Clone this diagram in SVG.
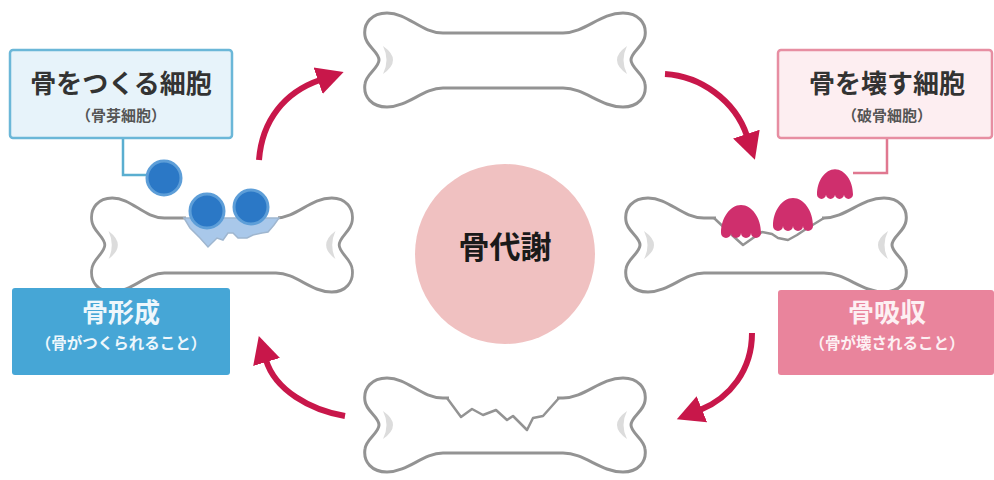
<svg xmlns="http://www.w3.org/2000/svg" xmlns:xlink="http://www.w3.org/1999/xlink" width="994" height="480" viewBox="0 0 994 480">
  <style>
    .bone { fill: #ffffff; stroke: #939393; stroke-width: 3; stroke-linejoin: round; }
    .mark { fill: #dcdcdc; }
    .crack { fill: none; stroke: #939393; stroke-width: 2.5; stroke-linejoin: round; }
    .patch { fill: #ffffff; }
    .arrow { fill: none; stroke: #c8174a; stroke-width: 6; marker-end: url(#head); }
    .t-main { font-family: "Noto Sans CJK JP", "Noto Sans", sans-serif; font-weight: 700; text-anchor: middle; }
    .blast { fill: #2b78c6; stroke: #5d9ed8; stroke-width: 3; }
    .clast { fill: #cf2f6d; }
  </style>
  <defs>
    <!-- generic long bone, centred on the origin -->
    <g id="bone">
      <path class="bone" d="M -62,-27 L 58,-27 C 80,-27 95,-47 118,-47 C 133,-47 142,-37 140,-24 C 139,-14 126,-8 126,0 C 126,8 139,14 140,24 C 142,37 133,47 118,47 C 95,47 80,28 58,28 L -62,28 C -82,28 -97,47 -118,47 C -133,47 -142,37 -140,24 C -139,14 -126,8 -126,0 C -126,-8 -139,-14 -140,-24 C -142,-37 -133,-47 -118,-47 C -97,-47 -84,-27 -62,-27 Z"/>
      <path class="mark" d="M -122,-14 Q -102,0 -122,14 Q -115,0 -122,-14 Z"/>
      <path class="mark" d="M 122,-14 Q 102,0 122,14 Q 115,0 122,-14 Z"/>
    </g>
    <!-- bone-resorbing cell: dome with a scalloped base -->
    <path id="clast" class="clast" d="M -20,6 C -20,-9 -11,-22 0,-22 C 11,-22 20,-9 20,6 A 5,5 0 0 1 10,6 A 5,5 0 0 1 0,6 A 5,5 0 0 1 -10,6 A 5,5 0 0 1 -20,6 Z"/>
    <marker id="head" viewBox="0 0 28 30" refX="2" refY="15" markerWidth="28" markerHeight="30" markerUnits="userSpaceOnUse" orient="auto">
      <path d="M 0,1 L 27,15 L 0,29 Z" fill="#c8174a"/>
    </marker>
  </defs>

  <rect width="994" height="480" fill="#ffffff"/>

  <!-- cycle arrows and label leaders -->
  <g id="connectors">
    <path class="arrow" d="M 259,160 C 262,120 285,92 320,80"/>
    <path class="arrow" d="M 665,74 C 700,76 735,100 747,136"/>
    <path class="arrow" d="M 752,333 C 752,370 730,398 700,410"/>
    <path class="arrow" d="M 345,416 C 310,410 275,390 266,360"/>
    <polyline points="123,138 123,175 147,175" fill="none" stroke="#5aaed0" stroke-width="2.5"/>
    <polyline points="887,138 887,173 853,173" fill="none" stroke="#e07890" stroke-width="2.5"/>
  </g>

  <!-- healthy bone (top) -->
  <g id="bone-top">
    <use xlink:href="#bone" href="#bone" transform="translate(505,60)"/>
  </g>

  <!-- fractured bone (bottom) -->
  <g id="bone-bottom">
    <use xlink:href="#bone" href="#bone" transform="translate(505,425)"/>
    <rect class="patch" x="449" y="392" width="108" height="12"/>
    <polyline class="crack" points="447,398 461,417 472,409 483,415 496,410 507,420 513,416 527,430 533,418 543,416 559,398"/>
  </g>

  <!-- bone formation: bone with osteoblasts -->
  <g id="bone-left">
    <use xlink:href="#bone" href="#bone" transform="translate(222,245) scale(0.93,1)"/>
    <rect class="patch" x="186" y="212" width="92" height="12"/>
    <path d="M 184,218 L 190,228 L 200,238 L 208,247 L 217,238 L 223,240 L 228,233 L 233,233 L 238,238 L 247,238 L 253,235 L 262,233 L 268,232 L 274,225 L 279,218 Z" fill="#a9c8ea" stroke="#9fb6cf" stroke-width="1.5"/>
    <circle class="blast" cx="164" cy="178" r="17"/>
    <circle class="blast" cx="207" cy="211" r="17"/>
    <circle class="blast" cx="251" cy="207" r="17"/>
  </g>

  <!-- bone resorption: bone with osteoclasts -->
  <g id="bone-right">
    <use xlink:href="#bone" href="#bone" transform="translate(766,245)"/>
    <rect class="patch" x="716" y="211" width="106" height="13"/>
    <polyline class="crack" points="714,218 733,236 743,245 753,238 762,232 772,234 778,238 788,240 797,235 806,229 824,218"/>
    <use xlink:href="#clast" href="#clast" transform="translate(741,227)"/>
    <use xlink:href="#clast" href="#clast" transform="translate(793,220)"/>
    <use xlink:href="#clast" href="#clast" transform="translate(835,189) scale(0.9)"/>
  </g>

  <!-- centre -->
  <g id="metabolism">
    <circle cx="505" cy="254" r="90" fill="#f0c1c1"/>
    <text class="t-main" x="505" y="258" font-size="31" fill="#1a1a1a">骨代謝</text>
  </g>

  <!-- labels -->
  <g id="osteoblast-label">
    <rect x="10" y="50" width="222" height="88" rx="3" fill="#e7f3fa" stroke="#6bb7d8" stroke-width="2.5"/>
    <text class="t-main" x="121" y="93" font-size="26" fill="#333333">骨をつくる細胞</text>
    <text class="t-main" x="121" y="121" font-size="15" fill="#555555">（骨芽細胞）</text>
  </g>

  <g id="osteoclast-label">
    <rect x="778" y="50" width="214" height="88" rx="3" fill="#fdeef1" stroke="#e78ea2" stroke-width="2.5"/>
    <text class="t-main" x="887" y="93" font-size="26" fill="#333333">骨を壊す細胞</text>
    <text class="t-main" x="887" y="121" font-size="15" fill="#555555">（破骨細胞）</text>
  </g>

  <g id="formation-label">
    <rect x="12" y="288" width="218" height="87" rx="3" fill="#46a6d6"/>
    <text class="t-main" x="121" y="322" font-size="26" fill="#eef7fc">骨形成</text>
    <text class="t-main" x="121" y="349" font-size="15.5" fill="#eef7fc">（骨がつくられること）</text>
  </g>

  <g id="resorption-label">
    <rect x="778" y="290" width="216" height="85" rx="3" fill="#e9849c"/>
    <text class="t-main" x="887" y="322" font-size="26" fill="#fdf0f3">骨吸収</text>
    <text class="t-main" x="887" y="349" font-size="15.5" fill="#fdf0f3">（骨が壊されること）</text>
  </g>
</svg>
